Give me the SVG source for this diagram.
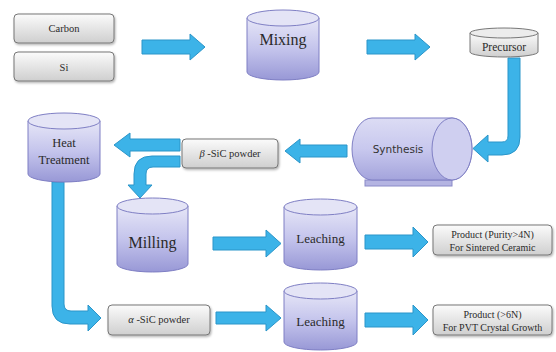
<svg xmlns="http://www.w3.org/2000/svg" width="556" height="352" viewBox="0 0 556 352">
<defs>
<linearGradient id="cyl" x1="0" y1="0" x2="0" y2="1">
<stop offset="0" stop-color="#e6e6f7"/>
<stop offset="0.5" stop-color="#c4c4ec"/>
<stop offset="1" stop-color="#9898d6"/>
</linearGradient>
<linearGradient id="cylh" x1="0" y1="0" x2="0" y2="1">
<stop offset="0" stop-color="#dcdcf4"/>
<stop offset="0.5" stop-color="#c8c8ee"/>
<stop offset="1" stop-color="#a4a4dc"/>
</linearGradient>
<linearGradient id="gray" x1="0" y1="0" x2="0" y2="1">
<stop offset="0" stop-color="#fbfbfb"/>
<stop offset="1" stop-color="#cfcfcf"/>
</linearGradient>
<filter id="sh" x="-10%" y="-20%" width="130%" height="150%">
<feDropShadow dx="1" dy="1.5" stdDeviation="1" flood-color="#000" flood-opacity="0.3"/>
</filter>
<style>
.body{fill:url(#cyl);stroke:#7f7fc4;stroke-width:1}
.top{fill:#e4e4f6;stroke:#7f7fc4;stroke-width:1}
.gbody{fill:url(#gray);stroke:#777;stroke-width:1}
.gtop{fill:#ececec;stroke:#777;stroke-width:1}
.box{fill:url(#gray);stroke:#777;stroke-width:1;filter:url(#sh)}
.arr{fill:#3cb3e8;stroke:#2b95c9;stroke-width:1}
.t{fill:#2a2a2a;text-anchor:middle}
.s{fill:#333;text-anchor:middle}
</style>
</defs>

<g id="connectors">
<polygon class="arr" points="142,40 190,40 190,34 205,47 190,60 190,54 142,54"/>
<polygon class="arr" points="367,40 415,40 415,34 430,47 415,60 415,54 367,54"/>
<path class="arr" d="M508,58 L520,58 L520,137 Q520,155 502,155 L488,155 L488,162 L473,148.5 L488,135 L488,142 L502,142 Q508,142 508,136 Z"/>
<polygon class="arr" points="347,145 300,145 300,139 285,151 300,163 300,157 347,157"/>
<polygon class="arr" points="180,139 130,139 130,133 114,145 130,157 130,151 180,151"/>
<path class="arr" d="M180,156 L152,156 Q134,156 134,174 L134,185 L128,185 L140,198 L152,185 L146,185 L146,174 Q146,167 153,167 L180,167 Z"/>
<path class="arr" d="M52,182 L64,182 L64,304 Q64,311 71,311 L88,311 L88,305 L101,318 L88,331 L88,324 L70,324 Q52,324 52,306 Z"/>
<polygon class="arr" points="213,237 266,237 266,230 281,243.5 266,257 266,250 213,250"/>
<polygon class="arr" points="216,312 266,312 266,305 281,318 266,331 266,324 216,324"/>
<polygon class="arr" points="365,235 413,235 413,227 428,242 413,257 413,249 365,249"/>
<polygon class="arr" points="365,313 413,313 413,305 428,320 413,335 413,327 365,327"/>
</g>

<g id="carbon">
<rect class="box" x="14" y="14" width="100" height="29" rx="4"/>
<text class="t" font-family="Liberation Serif, serif" x="64" y="32" font-size="10.5">Carbon</text>
</g>
<g id="si">
<rect class="box" x="14" y="52" width="100" height="29" rx="4"/>
<text class="t" font-family="Liberation Serif, serif" x="64" y="71" font-size="10.5">Si</text>
</g>

<g id="mixing">
<path class="body" d="M247,18 L247,72 A36,8 0 0 0 319,72 L319,18 Z"/>
<ellipse class="top" cx="283" cy="18" rx="36" ry="8"/>
<text class="t" font-family="Liberation Serif, serif" x="283" y="45" font-size="16">Mixing</text>
</g>

<g id="precursor">
<path class="gbody" d="M470,33 L470,52 A34,5 0 0 0 538,52 L538,33 Z"/>
<ellipse class="gtop" cx="504" cy="33" rx="34" ry="5"/>
<text class="t" font-family="Liberation Serif, serif" x="504" y="51" font-size="11.5">Precursor</text>
</g>

<g id="synthesis">
<rect x="365" y="180" width="87" height="6" fill="#b4b4e2" stroke="#8a8ac8" stroke-width="1"/>
<path d="M372,118 L452,118 A20,31 0 0 1 452,180 L372,180 A20,31 0 0 1 372,118 Z" fill="url(#cylh)" stroke="#7f7fc4"/>
<ellipse cx="452" cy="149" rx="20" ry="31" fill="#cfcff0" stroke="#7f7fc4"/>
<text class="s" font-family="DejaVu Sans, sans-serif" x="398" y="153" font-size="10.5">Synthesis</text>
</g>

<g id="beta">
<rect class="box" x="182" y="139" width="96" height="29" rx="4"/>
<text class="t" font-family="Liberation Serif, serif" x="230" y="157" font-size="10.5"><tspan font-style="italic">β</tspan> -SiC powder</text>
</g>

<g id="heat">
<path class="body" d="M28,121 L28,174 A36,8 0 0 0 100,174 L100,121 Z"/>
<ellipse class="top" cx="64" cy="121" rx="36" ry="8"/>
<text class="t" font-family="Liberation Serif, serif" x="64" y="147" font-size="12.5">Heat</text>
<text class="t" font-family="Liberation Serif, serif" x="64" y="164" font-size="12.5">Treatment</text>
</g>

<g id="milling">
<path class="body" d="M117,206 L117,264 A35.5,8 0 0 0 188,264 L188,206 Z"/>
<ellipse class="top" cx="152.5" cy="206" rx="35.5" ry="8"/>
<text class="t" font-family="Liberation Serif, serif" x="152.5" y="248" font-size="16">Milling</text>
</g>

<g id="alpha">
<rect class="box" x="108" y="305" width="102" height="30" rx="4"/>
<text class="t" font-family="Liberation Serif, serif" x="159" y="323" font-size="10.5"><tspan font-style="italic">α</tspan> -SiC powder</text>
</g>

<g id="leaching1">
<path class="body" d="M284,207 L284,262 A36.5,8 0 0 0 357,262 L357,207 Z"/>
<ellipse class="top" cx="320.5" cy="207" rx="36.5" ry="8"/>
<text class="t" font-family="Liberation Serif, serif" x="320.5" y="243" font-size="13">Leaching</text>
</g>

<g id="leaching2">
<path class="body" d="M284,291 L284,342 A36.5,8 0 0 0 357,342 L357,291 Z"/>
<ellipse class="top" cx="320.5" cy="291" rx="36.5" ry="8"/>
<text class="t" font-family="Liberation Serif, serif" x="320.5" y="326" font-size="13">Leaching</text>
</g>

<g id="product1">
<rect class="box" x="433" y="225" width="119" height="30" rx="4"/>
<text class="t" font-family="Liberation Serif, serif" x="492.5" y="238" font-size="10">Product (Purity&gt;4N)</text>
<text class="t" font-family="Liberation Serif, serif" x="492.5" y="251" font-size="10">For Sintered Ceramic</text>
</g>

<g id="product2">
<rect class="box" x="433" y="305" width="119" height="30" rx="4"/>
<text class="t" font-family="Liberation Serif, serif" x="492.5" y="318" font-size="10">Product (&gt;6N)</text>
<text class="t" font-family="Liberation Serif, serif" x="492.5" y="331" font-size="10">For PVT Crystal Growth</text>
</g>
</svg>
